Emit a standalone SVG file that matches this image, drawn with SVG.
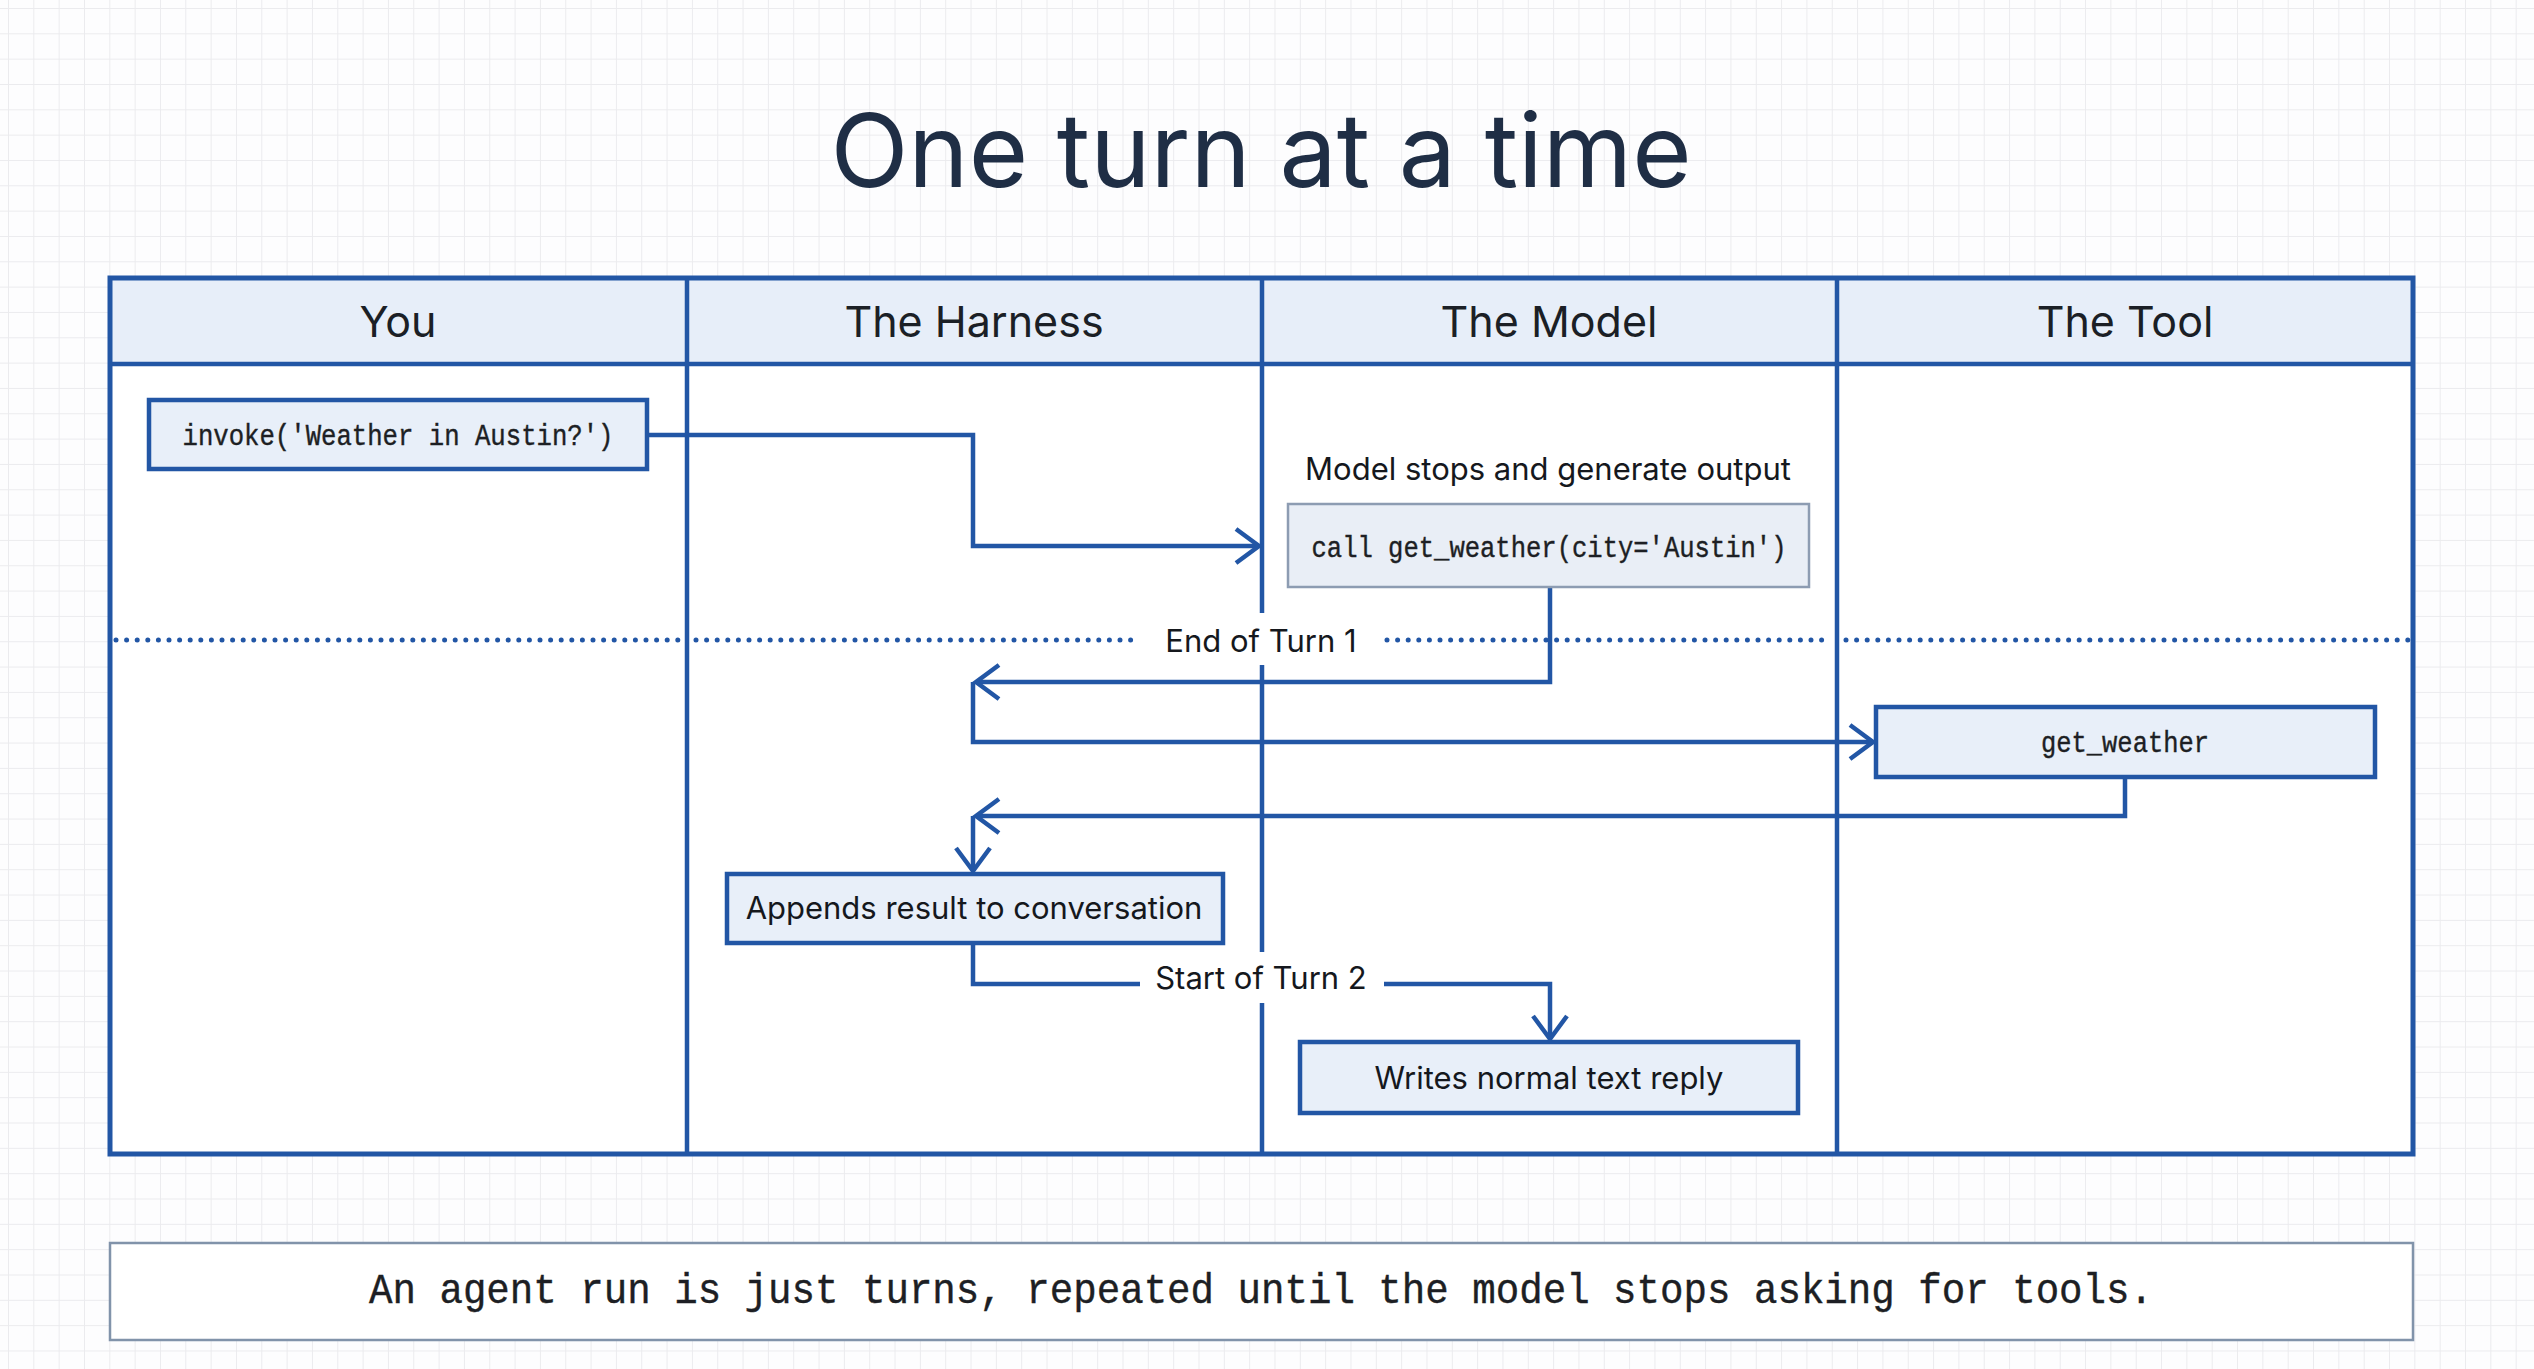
<svg xmlns="http://www.w3.org/2000/svg" width="2534" height="1369" viewBox="0 0 2534 1369">
<defs>
<pattern id="grid" x="8" y="8" width="25.33" height="25.33" patternUnits="userSpaceOnUse">
<path d="M0,0 H25.33 M0,0 V25.33" fill="none" stroke="#ebebee" stroke-width="2"/>
</pattern>
<marker id="arr" markerUnits="userSpaceOnUse" viewBox="-28 -22 32 44" markerWidth="32" markerHeight="44" refX="0" refY="0" orient="auto" overflow="visible">
<path d="M-23,-17 L0,0 L-23,17" fill="none" stroke="#2256a5" stroke-width="4.5" stroke-linejoin="miter"/>
</marker>
<style>
.line{stroke:#2256a5;stroke-width:4.5;fill:none}
.conn{stroke:#2256a5;stroke-width:4.5;fill:none;marker-end:url(#arr)}
.box{fill:#e8eff9;stroke:#2256a5;stroke-width:4.5}
.gbox{fill:#e9eef6;stroke:#8d9cb2;stroke-width:2.5}
.hdr{font-family:Inter,"Noto Sans",sans-serif;font-size:43px;fill:#1b1f26;text-anchor:middle}
.sans{font-family:Inter,"Noto Sans",sans-serif;font-size:31px;fill:#15181d;text-anchor:middle}
.mono{font-family:"Liberation Mono","DejaVu Sans Mono",monospace;font-size:30px;fill:#1d1f24;text-anchor:middle;stroke:#1d1f24;stroke-width:0.4}
.dots{stroke:#2256a5;stroke-width:5;stroke-linecap:round;stroke-dasharray:0 10.6;fill:none}
</style>
</defs>
<rect width="2534" height="1369" fill="#fdfdfe"/>
<rect width="2534" height="1369" fill="url(#grid)"/>

<text x="1261" y="187" font-family="Inter,'Noto Sans',sans-serif" font-size="102" fill="#1f2e45" text-anchor="middle">One turn at a time</text>

<g id="table">
<rect x="110" y="278" width="2303" height="876" fill="#ffffff"/>
<rect x="110" y="278" width="2303" height="86" fill="#e7eef9"/>
<line class="line" x1="110" y1="364" x2="2413" y2="364"/>
<line class="line" x1="687" y1="278" x2="687" y2="1154"/>
<line class="line" x1="1262" y1="278" x2="1262" y2="1154"/>
<line class="line" x1="1837" y1="278" x2="1837" y2="1154"/>
<rect x="110" y="278" width="2303" height="876" fill="none" stroke="#2256a5" stroke-width="5"/>
<text class="hdr" x="398" y="337">You</text>
<text class="hdr" x="974" y="337">The Harness</text>
<text class="hdr" x="1549" y="337">The Model</text>
<text class="hdr" x="2125" y="337">The Tool</text>
</g>

<g id="turn-divider">
<path class="dots" d="M116,640 H679 M696,640 H1139 M1387,640 H1829 M1846,640 H2408"/>
</g>

<g id="connectors">
<path class="conn" d="M647,435 H973 V546 H1259"/>
<path class="conn" d="M1550,588 V682 H976"/>
<path class="conn" d="M973,682 V742 H1873"/>
<path class="conn" d="M2125,777 V816 H976"/>
<path class="conn" d="M973,816 V871"/>
<path class="conn" d="M973,943 V984 H1550 V1039"/>
</g>

<g id="labels">
<rect x="1140" y="613" width="244" height="52" fill="#ffffff"/>
<text class="sans" x="1261" y="652">End of Turn 1</text>
<rect x="1140" y="952" width="244" height="51" fill="#ffffff"/>
<text class="sans" x="1261" y="989">Start of Turn 2</text>
<text class="sans" x="1548" y="480">Model stops and generate output</text>
</g>

<g id="node-invoke">
<rect class="box" x="149" y="400" width="498" height="69"/>
<text class="mono" x="398" y="445" textLength="431" lengthAdjust="spacingAndGlyphs">invoke('Weather in Austin?')</text>
</g>

<g id="node-call">
<rect class="gbox" x="1288" y="504" width="521" height="83"/>
<text class="mono" x="1549" y="557" textLength="475" lengthAdjust="spacingAndGlyphs">call get_weather(city='Austin')</text>
</g>

<g id="node-tool">
<rect class="box" x="1876" y="707" width="499" height="70"/>
<text class="mono" x="2125" y="752" textLength="168" lengthAdjust="spacingAndGlyphs">get_weather</text>
</g>

<g id="node-appends">
<rect class="box" x="727" y="874" width="496" height="69"/>
<text class="sans" x="974" y="919">Appends result to conversation</text>
</g>

<g id="node-writes">
<rect class="box" x="1300" y="1042" width="498" height="71"/>
<text class="sans" x="1549" y="1089">Writes normal text reply</text>
</g>

<g id="footer">
<rect x="110" y="1243" width="2303" height="97" fill="#ffffff" stroke="#8193aa" stroke-width="2.5"/>
<text x="1261" y="1303" font-family="'Liberation Mono','DejaVu Sans Mono',monospace" font-size="42" fill="#1d1f24" stroke="#1d1f24" stroke-width="0.4" text-anchor="middle" textLength="1784" lengthAdjust="spacingAndGlyphs">An agent run is just turns, repeated until the model stops asking for tools.</text>
</g>
</svg>
